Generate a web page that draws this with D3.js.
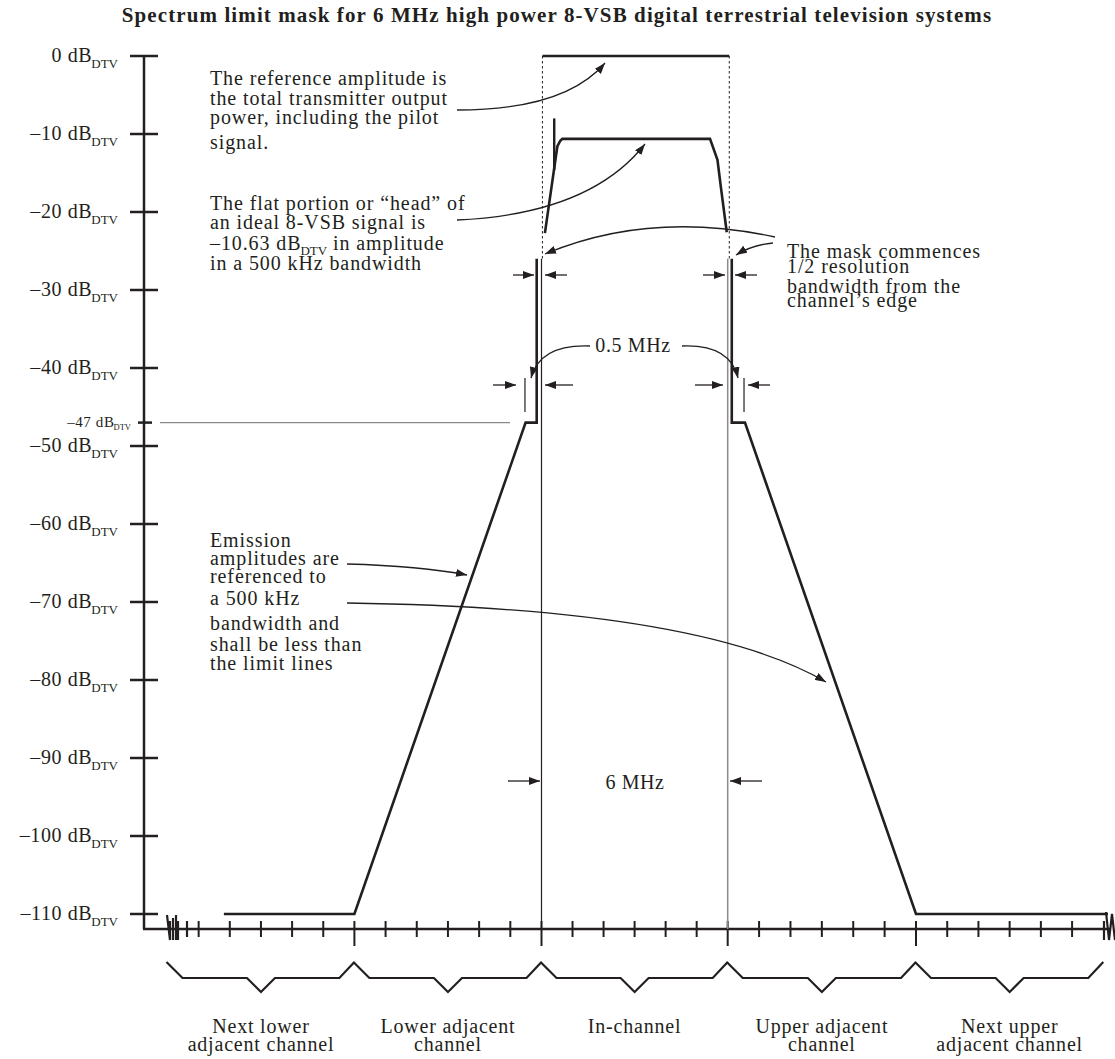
<!DOCTYPE html>
<html><head><meta charset="utf-8">
<script src="https://cdn.jsdelivr.net/npm/d3@7"></script>
<style>
html,body{margin:0;padding:0;background:#fff;}
svg text{font-family:"Liberation Serif","Times New Roman",serif;fill:#231f20;}
</style></head>
<body>
<svg id="chart" width="1115" height="1059"></svg>
<script>
// ---------- data ----------
const titleText = "Spectrum limit mask for 6 MHz high power 8-VSB digital terrestrial television systems";
const yTickValues = [0,-10,-20,-30,-40,-50,-60,-70,-80,-90,-100,-110];
const yTickLabels = ["0","\u201310","\u201320","\u201330","\u201340","\u201350","\u201360","\u201370","\u201380","\u201390","\u2013100","\u2013110"];
const markerLevel = -47;
const channelEdges = [-12,-6,0,6,12,18];           // MHz relative to lower in-channel edge
const minorTickMHz = [-11,-10,-9,-8,-7,-5,-4,-3,-2,-1,1,2,3,4,5,7,8,9,10,11,13,14,15,16,17];
const majorTickMHz = [-6,0,6,12];
const channelNames = [["Next lower","adjacent channel"],["Lower adjacent","channel"],["In-channel"],["Upper adjacent","channel"],["Next upper","adjacent channel"]];
const maskLower = [[-10.19,-110],[-6,-110],[-0.51,-47],[-0.154,-47],[-0.154,-26]];
const maskUpper = [[6.13,-26],[6.13,-47],[6.55,-47],[12,-110],[18.15,-110]];
const signalHead = [[0.11,-22.7],[0.51,-11.6],[0.6,-10.9],[0.67,-10.63],[5.43,-10.63],[5.67,-13.3],[5.78,-16.8],[5.97,-22.6]];
const pilotLine = [[0.41,-8],[0.41,-14.6]];
const referenceLevel = [[0.03,0],[6.05,0]];

// ---------- scales ----------
const svg = d3.select("#chart");
const x = d3.scaleLinear().domain([-12,-6,0,6,12,18]).range([167.5,354.4,541.5,727.7,916,1103.3]);
const y = d3.scaleLinear().domain([0,-110]).range([56,914]);
const ink = "#231f20";
const axisY = 929, axisX = 144;

// arrow marker
svg.append("defs").append("marker")
  .attr("id","ah").attr("markerUnits","userSpaceOnUse")
  .attr("markerWidth",12).attr("markerHeight",8)
  .attr("refX",11).attr("refY",4).attr("orient","auto")
  .append("path").attr("d","M0,0 L11,4 L0,8 Z").attr("fill",ink);

// title
svg.append("text").attr("x",557).attr("y",22).attr("text-anchor","middle")
  .attr("font-weight","bold").attr("font-size",21).attr("letter-spacing",1.1).text(titleText);

// ---------- axes ----------
svg.append("line").attr("x1",axisX).attr("x2",axisX).attr("y1",y(0)).attr("y2",axisY)
  .attr("stroke",ink).attr("stroke-width",2.5);
svg.append("line").attr("x1",axisX-1).attr("x2",1110).attr("y1",axisY).attr("y2",axisY)
  .attr("stroke",ink).attr("stroke-width",2.5);

svg.selectAll(".ytick").data(yTickValues).enter().append("line")
  .attr("x1",130).attr("x2",158).attr("y1",d=>y(d)).attr("y2",d=>y(d))
  .attr("stroke",ink).attr("stroke-width",2.5);

const yl = svg.selectAll(".ylab").data(yTickValues).enter().append("text")
  .attr("x",118).attr("y",d=>y(d)+6).attr("text-anchor","end")
  .attr("font-size",20).attr("letter-spacing",0.6);
yl.append("tspan").text((d,i)=>yTickLabels[i]+" dB");
yl.append("tspan").attr("font-size",13).attr("dx",-1).attr("dy",6).attr("letter-spacing",0).text("DTV");

// -47 marker
svg.append("line").attr("x1",138).attr("x2",152).attr("y1",y(markerLevel)).attr("y2",y(markerLevel))
  .attr("stroke",ink).attr("stroke-width",2.5);
svg.append("line").attr("x1",160).attr("x2",510).attr("y1",y(markerLevel)).attr("y2",y(markerLevel))
  .attr("stroke","#8a8a8a").attr("stroke-width",1.3);
const l47 = svg.append("text").attr("x",131).attr("y",y(markerLevel)+4).attr("text-anchor","end")
  .attr("font-size",15).attr("letter-spacing",0.6);
l47.append("tspan").text("\u201347 dB");
l47.append("tspan").attr("font-size",8.5).attr("dx",-1).attr("dy",3).attr("letter-spacing",0).text("DTV");

// x ticks
svg.selectAll(".xminor").data(minorTickMHz).enter().append("line")
  .attr("x1",d=>x(d)).attr("x2",d=>x(d)).attr("y1",axisY-8).attr("y2",axisY+8)
  .attr("stroke",ink).attr("stroke-width",2);
svg.selectAll(".xmajor").data(majorTickMHz).enter().append("line")
  .attr("x1",d=>x(d)).attr("x2",d=>x(d)).attr("y1",axisY-8).attr("y2",axisY+17)
  .attr("stroke",ink).attr("stroke-width",2);
// axis breaks
svg.append("path").attr("d","M167,915 L170,940 M170,921 L170,940 M173,918 L173,940 M176,915 L176,940 M178,921 L178,940 M187,921 L187,937")
  .attr("fill","none").attr("stroke",ink).attr("stroke-width",2.2);
svg.append("path").attr("d","M1104,921 L1104,940 M1106,912 L1109,940 L1112,914 L1115,940")
  .attr("fill","none").attr("stroke",ink).attr("stroke-width",2.2);

// ---------- channel edge lines ----------
svg.append("line").attr("x1",x(0)).attr("x2",x(0)).attr("y1",y(-26)).attr("y2",axisY)
  .attr("stroke",ink).attr("stroke-width",1.2);
svg.append("line").attr("x1",x(6)).attr("x2",x(6)).attr("y1",y(-26)).attr("y2",axisY)
  .attr("stroke","#8a8a8a").attr("stroke-width",1.5);
// dotted guides
[referenceLevel[0][0],referenceLevel[1][0]].forEach(f=>{
  svg.append("line").attr("x1",x(f)).attr("x2",x(f)).attr("y1",y(0)).attr("y2",y(-26))
    .attr("stroke",ink).attr("stroke-width",1).attr("stroke-dasharray","2.5,2.5");
});

// ---------- mask, signal ----------
const line = d3.line().x(d=>x(d[0])).y(d=>y(d[1]));
[maskLower,maskUpper].forEach(m=>{
  svg.append("path").attr("d",line(m)).attr("fill","none").attr("stroke",ink)
    .attr("stroke-width",2.6).attr("stroke-linejoin","miter");
});
svg.append("path").attr("d",line(referenceLevel)).attr("fill","none").attr("stroke",ink).attr("stroke-width",2.6);
svg.append("path").attr("d",line(signalHead)).attr("fill","none").attr("stroke",ink).attr("stroke-width",2.6);
svg.append("path").attr("d",line(pilotLine)).attr("fill","none").attr("stroke",ink).attr("stroke-width",2.4);

// ---------- resolution bandwidth markers ----------
[-0.53,6.52].forEach(f=>{
  svg.append("line").attr("x1",x(f)).attr("x2",x(f)).attr("y1",378).attr("y2",412)
    .attr("stroke",ink).attr("stroke-width",1.2);
});
const dimArrows = [
  [513,534,275],[567,545,275],[703,725,275],[757,735,275],
  [493,516,385],[573,545,385],[695,723,385],[770,748,385],
  [508,540,781],[762,730,781]
];
dimArrows.forEach(a=>{
  svg.append("line").attr("x1",a[0]).attr("x2",a[1]).attr("y1",a[2]).attr("y2",a[2])
    .attr("stroke",ink).attr("stroke-width",1.3).attr("marker-end","url(#ah)");
});

// ---------- annotation text ----------
function block(xp, lines, size){
  lines.forEach(l=>{
    const t = svg.append("text").attr("x",xp).attr("y",l[1]).attr("font-size",size||20).attr("letter-spacing",0.9);
    if (l[2]) {
      t.append("tspan").text(l[0]);
      t.append("tspan").attr("font-size",13).attr("dx",-1).attr("dy",5).attr("letter-spacing",0).text(l[2]);
      t.append("tspan").attr("dy",-5).text(l[3]);
    } else t.text(l[0]);
  });
}
block(210,[["The reference amplitude is",85],["the total transmitter output",105],["power, including the pilot",124],["signal.",149]]);
block(210,[["The flat portion or \u201chead\u201d of",210],["an ideal 8-VSB signal is",229],["\u201310.63 dB",250,"DTV","  in amplitude"],["in a 500 kHz bandwidth",270]]);
block(787,[["The mask commences",258],["1/2 resolution",273],["bandwidth from the",293],["channel\u2019s edge",307]]);
block(210,[["Emission",547],["amplitudes are",565],["referenced to",583],["a 500 kHz",605],["bandwidth and",630],["shall be less than",651],["the limit lines",670]]);

svg.append("text").attr("x",633).attr("y",352).attr("text-anchor","middle").attr("font-size",20).attr("letter-spacing",0.6).text("0.5 MHz");
svg.append("text").attr("x",635).attr("y",789).attr("text-anchor","middle").attr("font-size",20).attr("letter-spacing",0.6).text("6 MHz");

// curved leaders
const curves = [
  "M457,110 Q565,110 605,63",
  "M457,220 Q590,214 645,144",
  "M775,237 Q650,210 545,254",
  "M773,243 Q752,245 736,255",
  "M590,346 Q540,344 531,378",
  "M682,346 Q730,344 738,378",
  "M347,564 Q420,566 467,575",
  "M347,603 Q700,608 826,682"
];
curves.forEach(d=>{
  svg.append("path").attr("d",d).attr("fill","none").attr("stroke",ink).attr("stroke-width",1.3).attr("marker-end","url(#ah)");
});

// ---------- channel braces & labels ----------
const chans = d3.pairs(channelEdges);
chans.forEach((c,i)=>{
  const a = x(c[0]), b = x(c[1]), m = (a+b)/2;
  const p = d3.path();
  p.moveTo(a-1,962); p.lineTo(a+15,978); p.lineTo(m-14,978); p.lineTo(m,992);
  p.lineTo(m+14,978); p.lineTo(b-15,978); p.lineTo(b,962);
  svg.append("path").attr("d",p.toString()).attr("fill","none").attr("stroke",ink).attr("stroke-width",2.2);
  channelNames[i].forEach((s,j)=>{
    svg.append("text").attr("x",m).attr("y",1033+j*18).attr("text-anchor","middle")
      .attr("font-size",20).attr("letter-spacing",0.8).text(s);
  });
});
</script>
</body></html>
